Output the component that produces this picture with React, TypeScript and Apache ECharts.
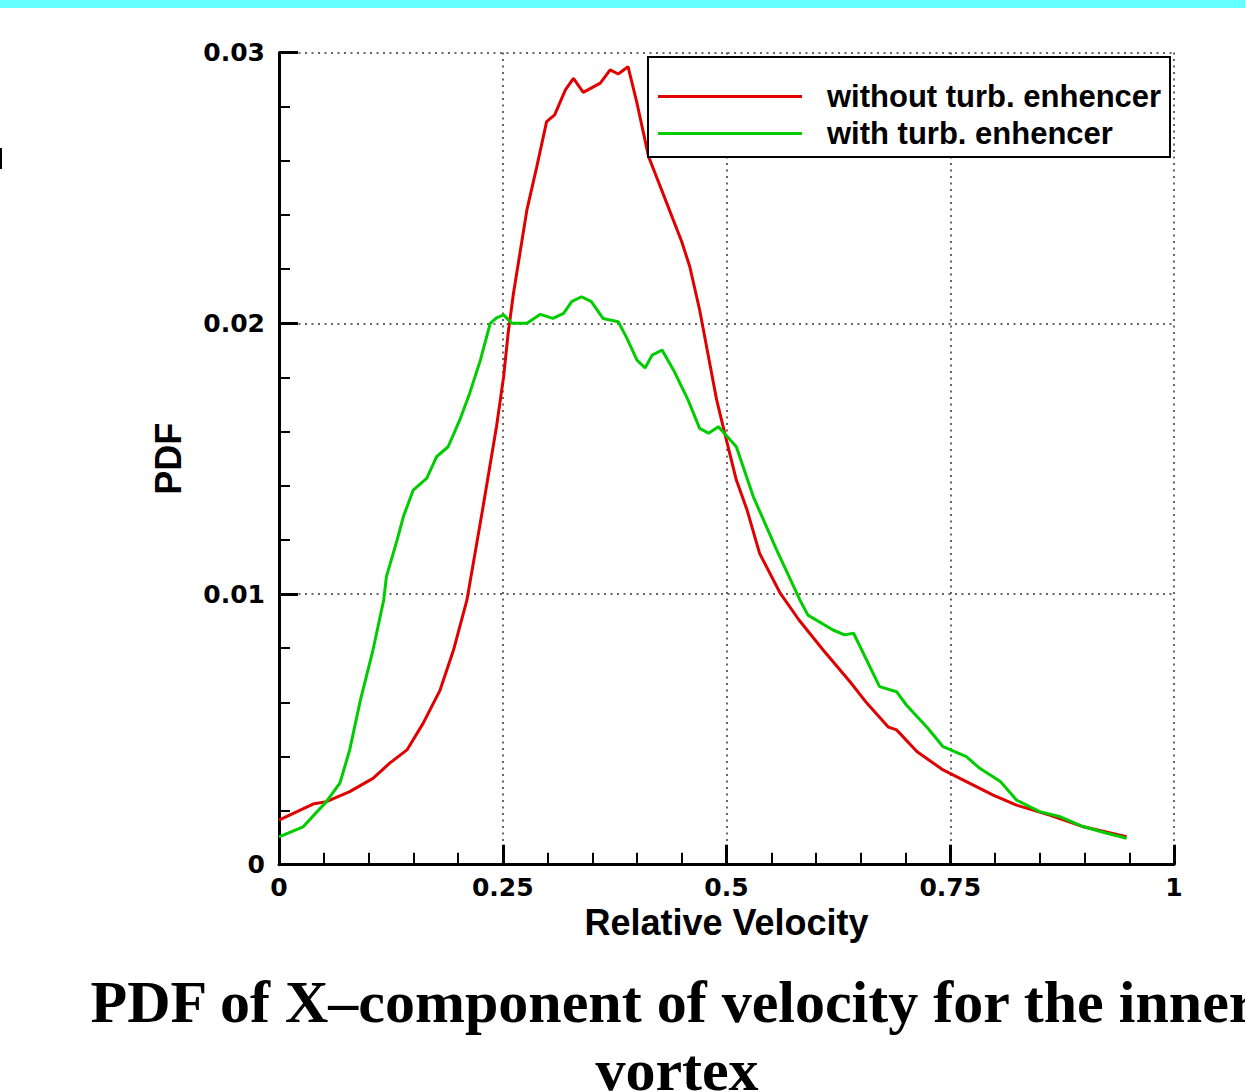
import React, { useEffect, useRef } from "react";
import * as echarts from "echarts";

// ---- data ----
const seriesNames = ["without turb. enhencer", "with turb. enhencer"];

const withoutX = [0.0, 0.038, 0.053, 0.079, 0.105, 0.124, 0.143, 0.161, 0.18, 0.195, 0.21, 0.228, 0.243, 0.251, 0.256, 0.262, 0.277, 0.288, 0.299, 0.308, 0.32, 0.329, 0.34, 0.359, 0.37, 0.379, 0.39, 0.4, 0.413, 0.429, 0.45, 0.459, 0.47, 0.489, 0.498, 0.511, 0.523, 0.537, 0.56, 0.581, 0.608, 0.638, 0.657, 0.681, 0.69, 0.713, 0.742, 0.768, 0.798, 0.824, 0.861, 0.899, 0.947];
const withoutY = [0.00165, 0.00224, 0.00233, 0.0027, 0.00319, 0.00376, 0.00424, 0.00522, 0.00645, 0.00793, 0.00978, 0.01322, 0.01618, 0.01803, 0.01963, 0.02111, 0.02419, 0.02578, 0.02745, 0.0277, 0.02862, 0.02905, 0.02853, 0.02887, 0.02936, 0.02921, 0.02948, 0.02813, 0.02615, 0.0248, 0.02301, 0.02209, 0.02049, 0.01717, 0.01594, 0.01421, 0.0131, 0.0115, 0.01003, 0.00904, 0.00793, 0.00676, 0.00596, 0.00508, 0.00498, 0.00417, 0.0035, 0.00307, 0.00257, 0.0022, 0.00183, 0.0014, 0.00103];

const withX = [0.0, 0.027, 0.053, 0.068, 0.079, 0.091, 0.105, 0.117, 0.12, 0.132, 0.139, 0.15, 0.165, 0.176, 0.189, 0.202, 0.213, 0.225, 0.236, 0.243, 0.251, 0.26, 0.277, 0.292, 0.306, 0.318, 0.327, 0.338, 0.349, 0.362, 0.379, 0.388, 0.4, 0.409, 0.417, 0.428, 0.442, 0.457, 0.47, 0.48, 0.491, 0.511, 0.53, 0.556, 0.582, 0.591, 0.619, 0.632, 0.642, 0.671, 0.69, 0.701, 0.725, 0.742, 0.768, 0.783, 0.806, 0.824, 0.85, 0.873, 0.899, 0.925, 0.947];
const withY = [0.00103, 0.0014, 0.00233, 0.00301, 0.00424, 0.00609, 0.00793, 0.00978, 0.01064, 0.012, 0.01286, 0.01384, 0.01427, 0.01507, 0.01544, 0.01643, 0.01741, 0.01864, 0.02, 0.0202, 0.02031, 0.02, 0.02, 0.02033, 0.02018, 0.02037, 0.0208, 0.02098, 0.0208, 0.02018, 0.02006, 0.0195, 0.01864, 0.01835, 0.01883, 0.01901, 0.0182, 0.01717, 0.01612, 0.01594, 0.01618, 0.01544, 0.01359, 0.01163, 0.00978, 0.00922, 0.00867, 0.00849, 0.00855, 0.00658, 0.00639, 0.0059, 0.00504, 0.00436, 0.00399, 0.00356, 0.00307, 0.00239, 0.00196, 0.00177, 0.0014, 0.00116, 0.00098];

const xAxisTitle = "Relative Velocity";
const yAxisTitle = "PDF";
const captionLines = ["PDF of X\u2013component of velocity for the inner", "vortex"];

const zip = (xs: number[], ys: number[]) => xs.map((x, i) => [x, ys[i]]);

const RED = "#E00000";
const GREEN = "#00CC00";
const SANS = "Liberation Sans, Arial, sans-serif";
const TICKFONT = "DejaVu Sans, Liberation Sans, sans-serif";

export default function App() {
  const ref = useRef<HTMLDivElement>(null);
  useEffect(() => {
    if (!ref.current) return;
    const chart = echarts.init(ref.current, undefined, { renderer: "svg" });
    const dotted = { type: [2, 4.5] as any, color: "#333", width: 1.5 };
    chart.setOption({
      animation: false,
      backgroundColor: "#fff",
      grid: { left: 279, top: 52.6, width: 895, height: 812.1, containLabel: false },
      xAxis: {
        type: "value",
        min: 0,
        max: 1,
        interval: 0.25,
        name: xAxisTitle,
        nameLocation: "middle",
        nameGap: 34,
        nameTextStyle: { fontFamily: SANS, fontWeight: "bold", fontSize: 36, color: "#000" },
        axisLine: { show: true, lineStyle: { color: "#000", width: 3 } },
        axisTick: { show: true, inside: true, length: 20, lineStyle: { color: "#000", width: 3 } },
        minorTick: { show: true, splitNumber: 5, length: 12, lineStyle: { color: "#000", width: 2 } },
        axisLabel: { margin: 10, fontFamily: TICKFONT, fontWeight: "bold", fontSize: 25, color: "#000" },
        splitLine: { show: true, lineStyle: dotted },
      },
      yAxis: {
        type: "value",
        min: 0,
        max: 0.03,
        interval: 0.01,
        name: yAxisTitle,
        nameLocation: "middle",
        nameGap: 93,
        nameRotate: 90,
        nameTextStyle: { fontFamily: SANS, fontWeight: "bold", fontSize: 36, color: "#000" },
        axisLine: { show: true, lineStyle: { color: "#000", width: 3 } },
        axisTick: { show: true, inside: true, length: 19, lineStyle: { color: "#000", width: 3 } },
        minorTick: { show: true, splitNumber: 5, length: 11, lineStyle: { color: "#000", width: 2 } },
        axisLabel: { margin: 14, fontFamily: TICKFONT, fontWeight: "bold", fontSize: 25, color: "#000" },
        splitLine: { show: true, lineStyle: dotted },
      },
      legend: {
        orient: "vertical",
        left: 658,
        top: 81,
        padding: 0,
        z: 10,
        itemGap: 6,
        itemWidth: 144,
        itemHeight: 3,
        icon: "rect",
        selectedMode: false,
        data: seriesNames,
        textStyle: { fontFamily: SANS, fontWeight: "bold", fontSize: 31, color: "#000", padding: [0, 0, 0, 20] },
      },
      series: [
        {
          name: seriesNames[0],
          type: "line",
          data: zip(withoutX, withoutY),
          showSymbol: false,
          symbol: "none",
          lineStyle: { color: RED, width: 3 },
          itemStyle: { color: RED },
        },
        {
          name: seriesNames[1],
          type: "line",
          data: zip(withX, withY),
          showSymbol: false,
          symbol: "none",
          lineStyle: { color: GREEN, width: 3 },
          itemStyle: { color: GREEN },
        },
      ],
      graphic: [
        { type: "rect", z: 1, shape: { x: 0, y: 0, width: 1245, height: 8 }, style: { fill: "#66FFFF" } },
        { type: "rect", z: 1, shape: { x: 0, y: 148, width: 2, height: 21 }, style: { fill: "#000" } },
        {
          type: "rect",
          z: 5,
          shape: { x: 648, y: 57, width: 522, height: 100 },
          style: { fill: "#fff", stroke: "#000", lineWidth: 2 },
        },
        {
          type: "text",
          z: 5,
          x: 673,
          y: 1002,
          style: {
            text: captionLines[0],
            fill: "#000",
            font: "bold 60px 'Liberation Serif', 'Times New Roman', serif",
            textAlign: "center",
            textVerticalAlign: "middle",
          },
        },
        {
          type: "text",
          z: 5,
          x: 677,
          y: 1070,
          style: {
            text: captionLines[1],
            fill: "#000",
            font: "bold 60px 'Liberation Serif', 'Times New Roman', serif",
            textAlign: "center",
            textVerticalAlign: "middle",
          },
        },
      ],
    });
    return () => chart.dispose();
  }, []);
  return (
    <div
      ref={ref}
      style={{ position: "absolute", left: 0, top: 0, width: 1245, height: 1092, background: "#fff" }}
    />
  );
}
